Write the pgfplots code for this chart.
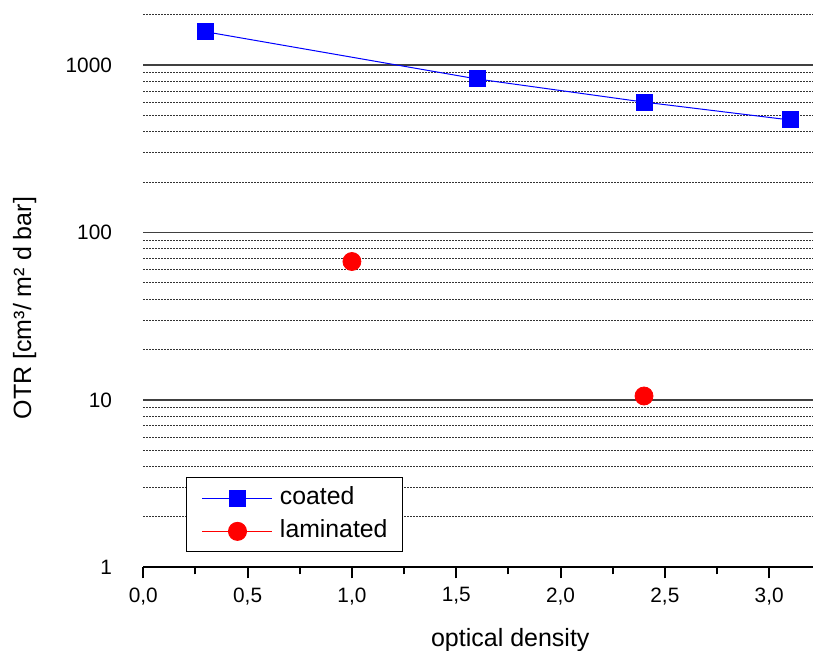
\documentclass[border=0pt]{standalone}
\usepackage{fontspec}
\setmainfont{Liberation Sans}
\usepackage{pgfplots}
\pgfplotsset{compat=1.18}
\begin{document}
\fontsize{11}{13}\selectfont
\begin{tikzpicture}
\begin{axis}[
  scale only axis, width=334.85pt, height=276.3pt,
  xmin=0, xmax=3.21, ymin=1, ymax=2000,
  ymode=log, log basis y=10,
  axis x line*=bottom, axis y line*=left,
  y axis line style={draw=none},
  x axis line style={line width=1pt, -},
  xtick={0,0.5,1,1.5,2,2.5,3},
  minor xtick={0.25,0.75,1.25,1.75,2.25,2.75},
  xticklabel={\pgfmathprintnumber[fixed,fixed zerofill,precision=1,use comma,assume math mode=true]{\tick}},
  xtick style={line width=1pt, black},
  tick align=outside,
  major tick length=5.5pt, minor tick length=3.5pt,
  ytick={1,10,100,1000},
  yticklabels={1,10,100,1000},
  minor ytick={2,3,4,5,6,7,8,9,20,30,40,50,60,70,80,90,200,300,400,500,600,700,800,900,2000},
  ytick style={draw=none},
  tick label style={font=\fontsize{10.4}{12}\selectfont},
  yticklabel style={anchor=east, inner sep=0pt, xshift=-10pt},
  xticklabel style={anchor=north, inner sep=0pt, yshift=-4.5pt},
  ymajorgrids, yminorgrids,
  major grid style={line width=0.75pt, black!75},
  minor grid style={line width=0.5pt, black!80, dash pattern=on 0.75pt off 0.75pt},
  xlabel={optical density},
  ylabel={OTR [cm³/ m² d bar]},
  label style={font=\fontsize{12.5}{14}\selectfont},
  xlabel style={at={(axis description cs:0.548,-0.110)}, anchor=north, inner sep=0pt},
  ylabel style={at={(axis description cs:-0.177,0.469)}, anchor=center, inner sep=0pt},
  legend style={at={(axis description cs:0.0645,0.027)}, anchor=south west,
    draw=black, line width=0.5pt, inner xsep=7.5pt, inner ysep=4.5pt, row sep=5pt, column sep=3.5pt,
    nodes={inner sep=0pt, text height=9pt, text depth=2.5pt},
    font=\fontsize{12.4}{14}\selectfont},
  legend cell align=left,
  clip=false,
]
\addplot[blue, line width=0.5pt, mark=square*, mark size=4pt, mark options={solid, fill=blue, draw=blue},
  legend image code/.code={\draw[mark repeat=2, mark phase=2] plot coordinates {(0pt,0pt) (17.5pt,0pt) (35pt,0pt)};}]
  coordinates {(0.3,1580) (1.6,826) (2.4,601) (3.1,470)};
\addlegendentry{coated}
\addplot[red, only marks, mark=*, mark size=4.5pt, mark options={solid, fill=red, draw=red},
  legend image code/.code={\draw[sharp plot, line width=0.5pt, mark repeat=2, mark phase=2] plot coordinates {(0pt,0pt) (17.5pt,0pt) (35pt,0pt)};}]
  coordinates {(1.0,67.1) (2.4,10.55)};
\addlegendentry{laminated\hspace{1.5pt}}
\end{axis}
\pgfresetboundingbox
\path[use as bounding box] (current axis.south west) ++(-71.65pt,-41.85pt) rectangle ([yshift=7.35pt]current axis.north east);
\end{tikzpicture}
\end{document}
